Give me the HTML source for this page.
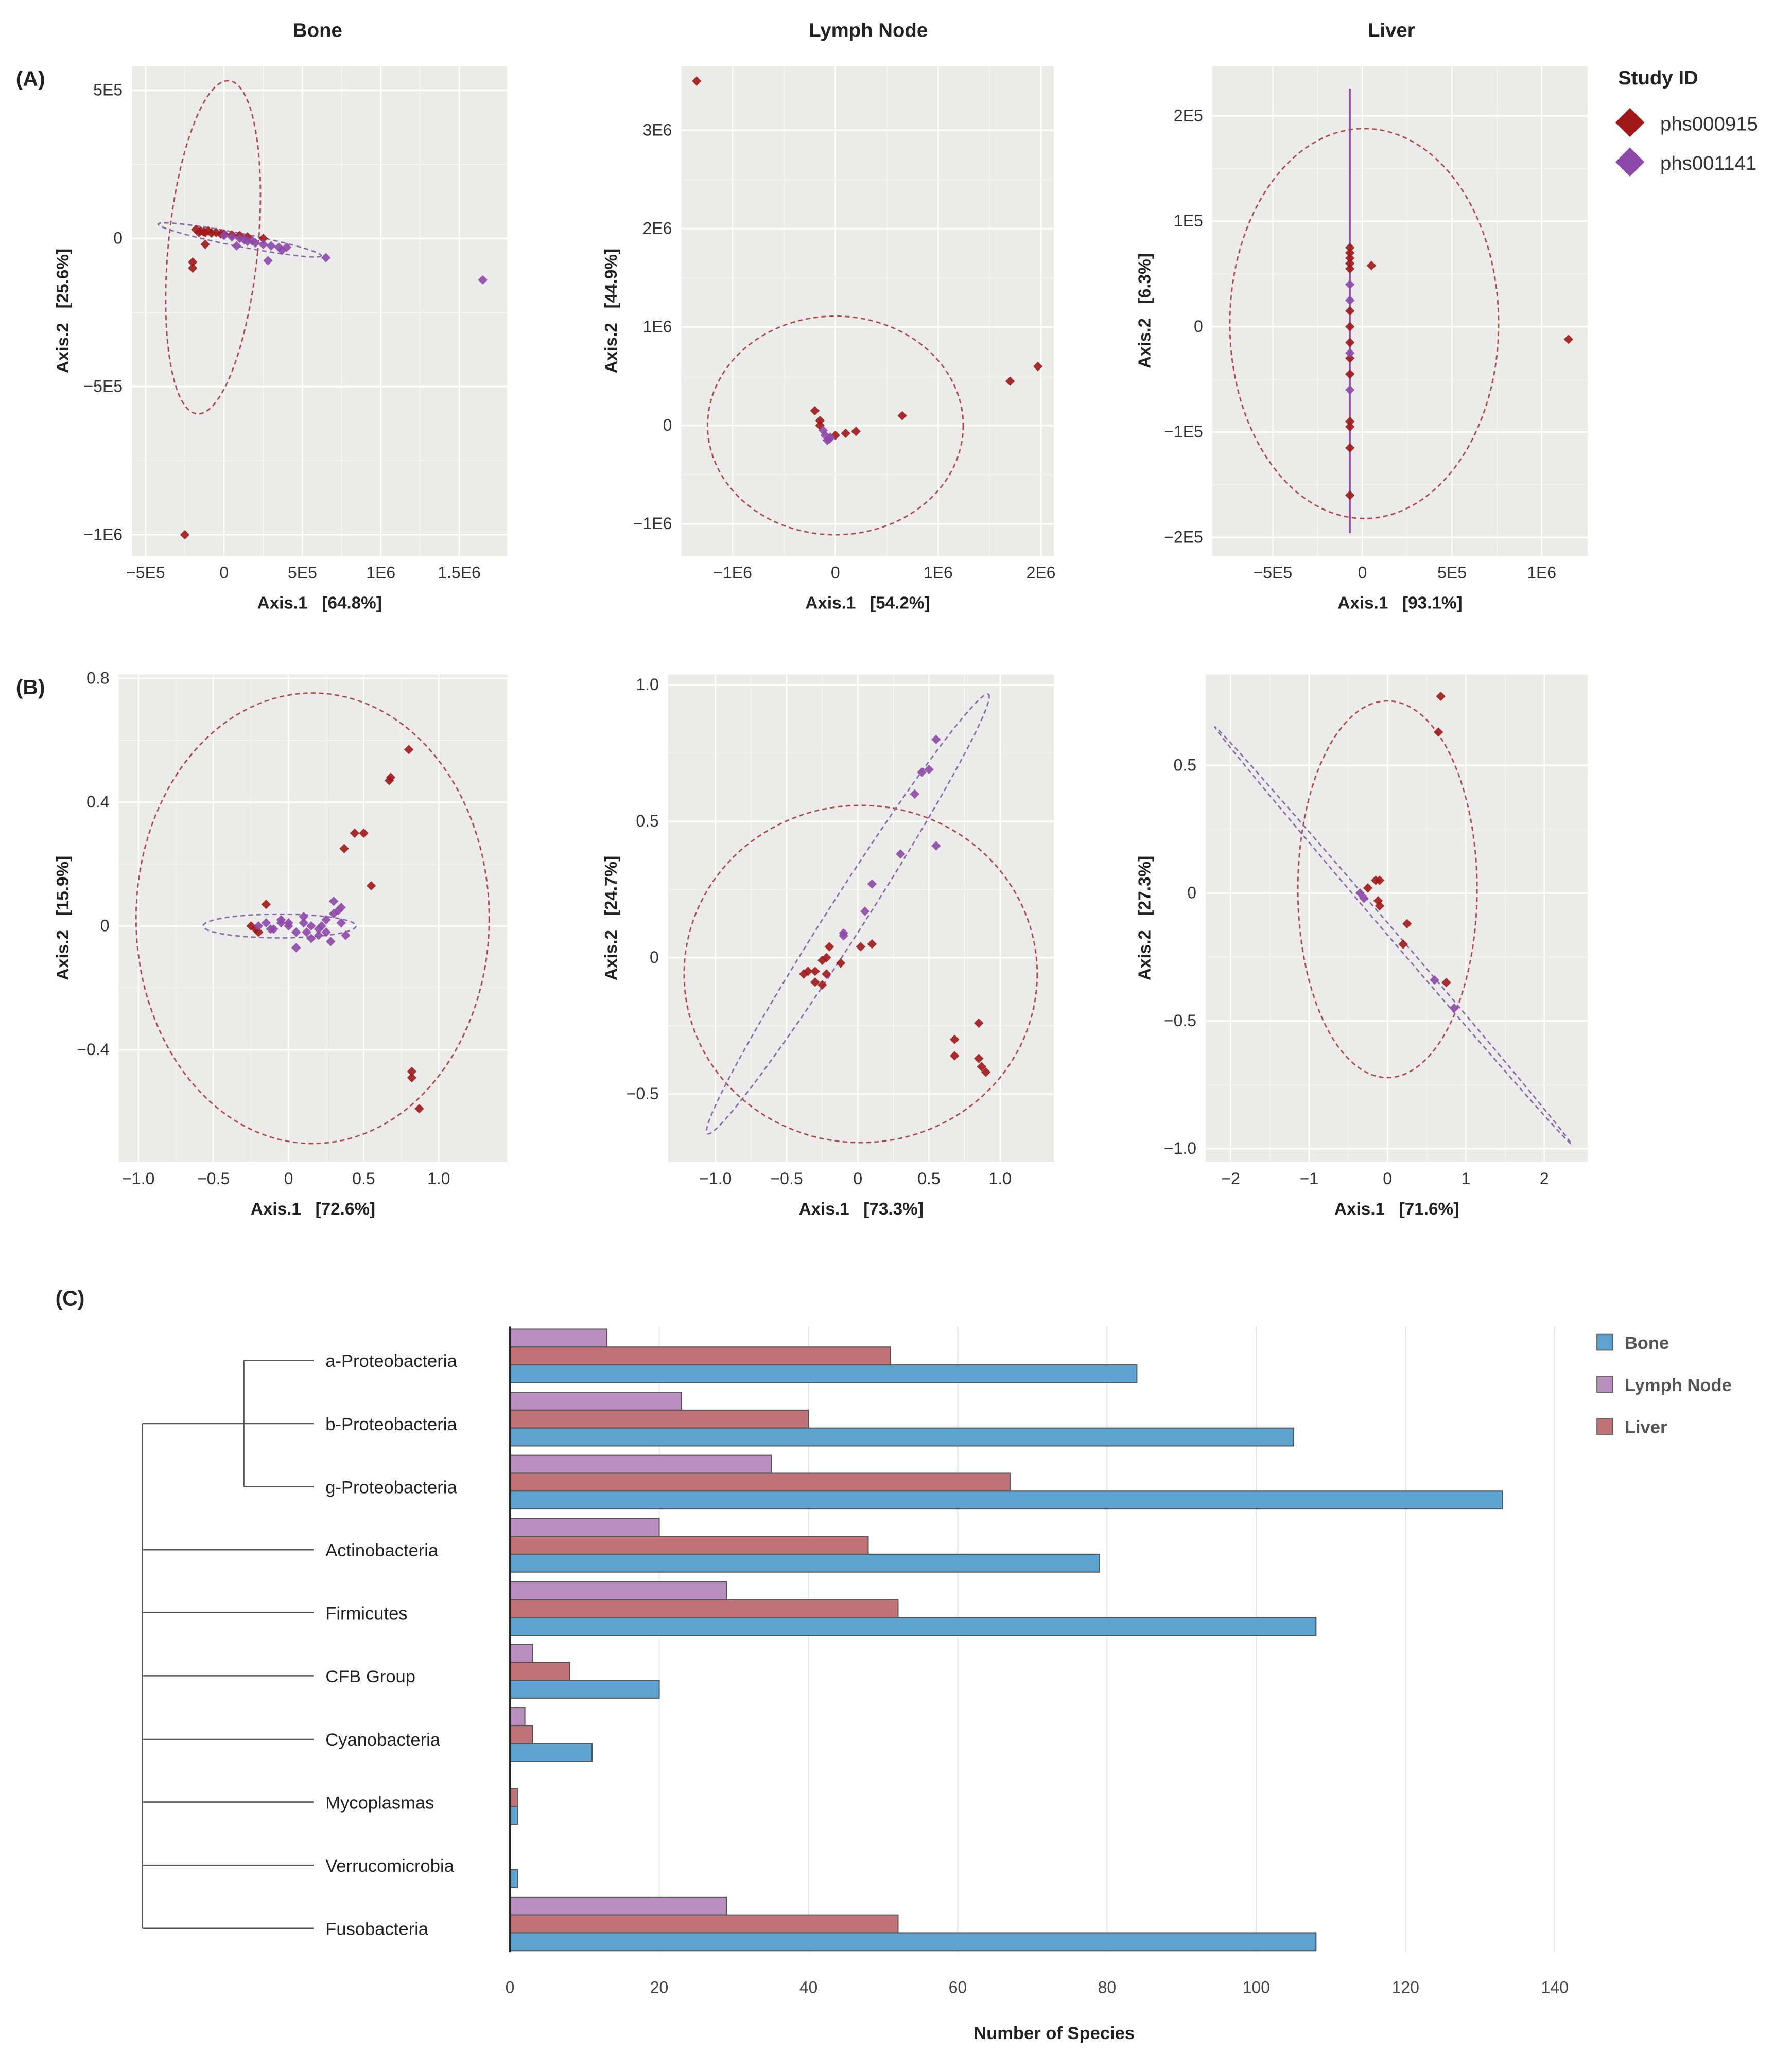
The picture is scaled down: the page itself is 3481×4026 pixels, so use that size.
<!DOCTYPE html>
<html><head><meta charset="utf-8">
<style>
html,body{margin:0;padding:0;background:#fff;}
svg{display:block;font-family:"Liberation Sans",sans-serif;}
</style></head>
<body>
<svg id="fig" width="3481" height="4026" viewBox="0 0 1360 1573" xmlns="http://www.w3.org/2000/svg">
<rect x="0" y="0" width="1360" height="1573" fill="#fff"/>
<g id="root"></g>
</svg>
<script>
// ===== Data: panel A (PCoA raw) =====
const aBoneRedX = [-180000,-160000,-150000,-130000,-120000,-100000,-80000,-50000,-20000,0,50000,100000,150000,250000,-120000,-200000,-200000,-250000];
const aBoneRedY = [30000,20000,25000,22000,20000,25000,18000,20000,15000,15000,12000,10000,5000,0,-20000,-80000,-100000,-1000000];
const aBonePurX = [0,50000,100000,130000,150000,180000,200000,250000,300000,350000,370000,400000,80000,280000,650000,1650000];
const aBonePurY = [10000,5000,0,-5000,-10000,-8000,-15000,-20000,-25000,-30000,-40000,-30000,-25000,-75000,-65000,-140000];
const aLymRedX = [-1350000,1700000,1970000,650000,-200000,-150000,-150000,0,100000,200000];
const aLymRedY = [3500000,450000,600000,100000,150000,50000,0,-100000,-80000,-60000];
const aLymPurX = [-100000,-80000,-120000,-50000,-60000];
const aLymPurY = [-100000,-150000,-50000,-120000,-140000];
const aLivRedX = [-70000,-70000,-70000,-70000,-70000,-70000,-70000,-70000,-70000,-70000,-70000,-70000,-70000,-70000,50000,1150000];
const aLivRedY = [75000,70000,65000,60000,55000,15000,0,-15000,-30000,-45000,-90000,-95000,-115000,-160000,58000,-12000];
const aLivPurX = [-70000,-70000,-70000,-70000];
const aLivPurY = [40000,25000,-25000,-60000];
// ===== Data: panel B =====
const bBoneRedX = [0.8,0.68,0.67,0.5,0.44,0.37,0.55,-0.15,0.82,0.82,0.87,-0.25,-0.22,-0.2];
const bBoneRedY = [0.57,0.48,0.47,0.3,0.3,0.25,0.13,0.07,-0.47,-0.49,-0.59,0,-0.01,-0.02];
const bBonePurX = [-0.2,-0.15,-0.1,-0.05,0,0.05,0.1,0.15,0.2,0.25,0.3,0.35,0.38,0.3,0.33,0.1,0.2,0.05,-0.05,0.15,0.25,0.35,0.28,-0.12,0.0,0.12,0.22];
const bBonePurY = [0,0.01,-0.01,0.02,0,-0.02,0.01,0,-0.03,0.02,0.04,0.01,-0.03,0.08,0.05,0.03,-0.01,-0.07,0.01,-0.04,-0.02,0.06,-0.05,-0.01,0.01,-0.02,0.0];
const bLymRedX = [0.1,0.02,-0.2,-0.22,-0.25,-0.3,-0.35,-0.38,-0.3,-0.25,-0.22,-0.12,0.85,0.68,0.68,0.85,0.87,0.9];
const bLymRedY = [0.05,0.04,0.04,0,-0.01,-0.05,-0.05,-0.06,-0.09,-0.1,-0.06,-0.02,-0.24,-0.3,-0.36,-0.37,-0.4,-0.42];
const bLymPurX = [0.55,0.5,0.45,0.4,0.55,0.3,0.1,0.05,-0.1,-0.1];
const bLymPurY = [0.8,0.69,0.68,0.6,0.41,0.38,0.27,0.17,0.09,0.08];
const bLivRedX = [0.68,0.65,-0.1,-0.15,-0.25,-0.1,-0.12,0.25,0.2,0.75];
const bLivRedY = [0.77,0.63,0.05,0.05,0.02,-0.05,-0.03,-0.12,-0.2,-0.35];
const bLivPurX = [-0.35,-0.3,0.6,0.85];
const bLivPurY = [0,-0.02,-0.34,-0.45];
// ===== Data: panel C =====
const categories = ["a-Proteobacteria","b-Proteobacteria","g-Proteobacteria","Actinobacteria","Firmicutes","CFB Group","Cyanobacteria","Mycoplasmas","Verrucomicrobia","Fusobacteria"];
const boneVals = [84,105,133,79,108,20,11,1,1,108];
const liverVals = [51,40,67,48,52,8,3,1,0,52];
const lymphVals = [13,23,35,20,29,3,2,0,0,29];
const xTicksC = [0,20,40,60,80,100,120,140];

const NS="http://www.w3.org/2000/svg";
const root=document.getElementById('root');
function el(tag,attrs,parent){const e=document.createElementNS(NS,tag);for(const k in attrs)e.setAttribute(k,attrs[k]);(parent||root).appendChild(e);return e;}
function txt(s,attrs,parent){const e=el('text',attrs,parent);e.textContent=s;return e;}

const RED="#a01818", PUR="#8e48aa";

function panel(cfg){
  const g=el('g',{});
  
  
  const sx=v=>cfg.x0+v*cfg.kx, sy=v=>cfg.y0-v*cfg.ky;
  const bg=el('rect',{x:cfg.l,y:cfg.t,width:cfg.r-cfg.l,height:cfg.b-cfg.t,fill:"#ebebe9"},g);
  
  
  cfg.xt.forEach((v,i)=>{
    const X=sx(v);
    el('line',{x1:X,x2:X,y1:cfg.t,y2:cfg.b,stroke:"#fff","stroke-width":1},g);
    if(i<cfg.xt.length-1){const m=sx((v+cfg.xt[i+1])/2);el('line',{x1:m,x2:m,y1:cfg.t,y2:cfg.b,stroke:"#f6f6f5","stroke-width":0.5},g);}
    const t=txt(cfg.xl[i],{x:X,y:cfg.b+17,"font-size":12.5,"text-anchor":"middle",fill:"#333"},g);
    
    
  });
  cfg.yt.forEach((v,i)=>{
    const Y=sy(v);
    el('line',{x1:cfg.l,x2:cfg.r,y1:Y,y2:Y,stroke:"#fff","stroke-width":1.2},g);
    if(i<cfg.yt.length-1){const m=sy((v+cfg.yt[i+1])/2);el('line',{x1:cfg.l,x2:cfg.r,y1:m,y2:m,stroke:"#f6f6f5","stroke-width":0.6},g);}
    const t=txt(cfg.yl[i],{x:cfg.l-7,y:Y+4,"font-size":12.5,"text-anchor":"end",fill:"#333"},g);
    
    
  });
  const xt=txt(cfg.xtitle,{x:(cfg.l+cfg.r)/2,y:cfg.b+40,"font-size":13,"font-weight":"bold","text-anchor":"middle",fill:"#222"},g);
  
  
  const yx=cfg.ytx, yy=(cfg.t+cfg.b)/2;
  const yt=txt(cfg.ytitle,{x:yx,y:yy,"font-size":13,"font-weight":"bold","text-anchor":"middle",fill:"#222",transform:`rotate(-90 ${yx} ${yy})`},g);
  
  
  cfg.ell.forEach(e=>{
    const cx=sx(e.cx), cy=sy(e.cy);
    const p=el('ellipse',{cx:cx,cy:cy,rx:e.a,ry:e.b,fill:"none",stroke:e.c||"#b0484c","stroke-width":1.1,"stroke-dasharray":"3.5,2.5",transform:`rotate(${e.rot||0} ${cx} ${cy})`},g);
    
    
  });
  if(cfg.vline){
    const v=cfg.vline;
    const l=el('line',{x1:sx(v.x),x2:sx(v.x),y1:sy(v.y1),y2:sy(v.y2),stroke:PUR,"stroke-width":1.3},g);
    
    
  }
  function pts(X,Y,c,nm){
    X.forEach((x,i)=>{
      const cx=sx(x), cy=sy(Y[i]), s=3.6;
      const d=el('path',{d:`M${cx} ${cy-s}L${cx+s} ${cy}L${cx} ${cy+s}L${cx-s} ${cy}Z`,fill:c,opacity:0.9},g);
      
      
    });
  }
  pts(cfg.rx,cfg.ry,RED,'point-phs000915');
  pts(cfg.px,cfg.py,PUR,'point-phs001141');
  if(cfg.title){
    const t=txt(cfg.title,{x:cfg.tx,y:28,"font-size":15,"font-weight":"bold","text-anchor":"middle",fill:"#222"},g);
    
    
  }
}
const SP="\u00a0\u00a0\u00a0";
const PE="#8a6aa8";
panel({name:'bone-pcoa-a',l:100,r:385,t:50,b:422,x0:170,kx:119/1e6,y0:181,ky:225/1e6,
  xt:[-5e5,0,5e5,1e6,1.5e6],xl:["\u22125E5","0","5E5","1E6","1.5E6"],
  yt:[5e5,0,-5e5,-1e6],yl:["5E5","0","\u22125E5","\u22121E6"],
  xtitle:"Axis.1"+SP+"[64.8%]",ytitle:"Axis.2"+SP+"[25.6%]",ytx:52,title:"Bone",tx:241,
  ell:[{cx:-70000,cy:-30000,a:34,b:127,rot:5.5},{cx:100000,cy:-5000,a:63,b:5,rot:11,c:PE}],
  rx:aBoneRedX,ry:aBoneRedY,px:aBonePurX,py:aBonePurY});
panel({name:'lymph-node-pcoa-a',l:517,r:800,t:50,b:422,x0:634,kx:78/1e6,y0:323,ky:74.7/1e6,
  xt:[-1e6,0,1e6,2e6],xl:["\u22121E6","0","1E6","2E6"],
  yt:[3e6,2e6,1e6,0,-1e6],yl:["3E6","2E6","1E6","0","\u22121E6"],
  xtitle:"Axis.1"+SP+"[54.2%]",ytitle:"Axis.2"+SP+"[44.9%]",ytx:468,title:"Lymph Node",tx:659,
  ell:[{cx:0,cy:0,a:97,b:83}],
  rx:aLymRedX,ry:aLymRedY,px:aLymPurX,py:aLymPurY});
panel({name:'liver-pcoa-a',l:920,r:1205,t:50,b:422,x0:1034,kx:136/1e6,y0:248,ky:800/1e6,
  xt:[-5e5,0,5e5,1e6],xl:["\u22125E5","0","5E5","1E6"],
  yt:[2e5,1e5,0,-1e5,-2e5],yl:["2E5","1E5","0","\u22121E5","\u22122E5"],
  xtitle:"Axis.1"+SP+"[93.1%]",ytitle:"Axis.2"+SP+"[6.3%]",ytx:873,title:"Liver",tx:1056,
  ell:[{cx:10000,cy:3000,a:102,b:148}],vline:{x:-70000,y1:226000,y2:-196000},
  rx:aLivRedX,ry:aLivRedY,px:aLivPurX,py:aLivPurY});
panel({name:'bone-pcoa-b',l:90,r:385,t:512,b:882,x0:219,kx:114,y0:703,ky:235,
  xt:[-1,-0.5,0,0.5,1],xl:["\u22121.0","\u22120.5","0","0.5","1.0"],
  yt:[0.8,0.4,0,-0.4],yl:["0.8","0.4","0","\u22120.4"],
  xtitle:"Axis.1"+SP+"[72.6%]",ytitle:"Axis.2"+SP+"[15.9%]",ytx:52,
  ell:[{cx:0.16,cy:0.025,a:134,b:171},{cx:-0.06,cy:0,a:58,b:9,c:PE}],
  rx:bBoneRedX,ry:bBoneRedY,px:bBonePurX,py:bBonePurY});
panel({name:'lymph-node-pcoa-b',l:507,r:800,t:512,b:882,x0:651,kx:108,y0:727,ky:207,
  xt:[-1,-0.5,0,0.5,1],xl:["\u22121.0","\u22120.5","0","0.5","1.0"],
  yt:[1,0.5,0,-0.5],yl:["1.0","0.5","0","\u22120.5"],
  xtitle:"Axis.1"+SP+"[73.3%]",ytitle:"Axis.2"+SP+"[24.7%]",ytx:468,
  ell:[{cx:0.02,cy:-0.06,a:134,b:128},{cx:-0.07,cy:0.16,a:198,b:14,rot:-57.4,c:PE}],
  rx:bLymRedX,ry:bLymRedY,px:bLymPurX,py:bLymPurY});
panel({name:'liver-pcoa-b',l:915,r:1205,t:512,b:882,x0:1053,kx:59.5,y0:678,ky:194,
  xt:[-2,-1,0,1,2],xl:["\u22122","\u22121","0","1","2"],
  yt:[0.5,0,-0.5,-1],yl:["0.5","0","\u22120.5","\u22121.0"],
  xtitle:"Axis.1"+SP+"[71.6%]",ytitle:"Axis.2"+SP+"[27.3%]",ytx:873,
  ell:[{cx:0,cy:0.015,a:68,b:143},{cx:0.07,cy:-0.165,a:208,b:3,rot:49.5,c:PE}],
  rx:bLivRedX,ry:bLivRedY,px:bLivPurX,py:bLivPurY});

[["(A)",12,65,'panel-label-a'],["(B)",12,527,'panel-label-b'],["(C)",42,991,'panel-label-c']].forEach(a=>{
  const t=txt(a[0],{x:a[1],y:a[2],"font-size":16,"font-weight":"bold",fill:"#222"});
  
  
});
const st=txt("Study ID",{x:1228,y:64,"font-size":15,"font-weight":"bold",fill:"#222"});


[["phs000915",RED,93],["phs001141",PUR,123]].forEach(a=>{
  const g=el('g',{});
  
  
  el('path',{d:`M1237 ${a[2]-11}L1248 ${a[2]}L1237 ${a[2]+11}L1226 ${a[2]}Z`,fill:a[1]},g);
  txt(a[0],{x:1260,y:a[2]+6,"font-size":15,fill:"#333"},g);
});

// ===== Panel C =====
const cx0=387, ck=(1180-387)/140, gTop=1009, gStep=47.9, bh=13.6;
const xC=v=>cx0+v*ck;
const gc=el('g',{});


xTicksC.forEach(v=>{
  if(v>0){const l=el('line',{x1:xC(v),x2:xC(v),y1:1007,y2:1482,stroke:"#e3e3e3","stroke-width":0.8},gc);
  
  }
  const t=txt(String(v),{x:xC(v),y:1513,"font-size":12.5,"text-anchor":"middle",fill:"#444"},gc);
  
  
});
const series=[[lymphVals,"#b98fbf",'bar-lymph-node'],[liverVals,"#c07376",'bar-liver'],[boneVals,"#5ea3cf",'bar-bone']];
categories.forEach((c,i)=>{
  const top=gTop+i*gStep;
  series.forEach((s,j)=>{
    const v=s[0][i]; if(v<=0) return;
    const r=el('rect',{x:cx0,y:top+j*bh,width:xC(v)-cx0,height:bh,fill:s[1],stroke:"#555","stroke-width":0.8},gc);
    
    
  });
  const ly=top+bh*1.75;
  const t=txt(c,{x:247,y:ly+5,"font-size":13.5,fill:"#222"},gc);
  
  
});
const ax=el('line',{x1:cx0,x2:cx0,y1:1007,y2:1482,stroke:"#222","stroke-width":1.2},gc);


const xtC=txt("Number of Species",{x:800,y:1548,"font-size":13.5,"font-weight":"bold","text-anchor":"middle",fill:"#222"},gc);


const dg=el('g',{stroke:"#555","stroke-width":1,fill:"none"});


const ys=categories.map((c,i)=>gTop+i*gStep+bh*1.75);
el('line',{x1:108,x2:108,y1:ys[1],y2:ys[9]},dg);
el('line',{x1:185,x2:185,y1:ys[0],y2:ys[2]},dg);
ys.forEach((y,i)=>{
  const x1=(i===0||i===2)?185:108;
  el('line',{x1:x1,x2:238,y1:y,y2:y},dg);
});
[["Bone","#5ea3cf",1019],["Lymph Node","#b98fbf",1051],["Liver","#c07376",1083]].forEach(a=>{
  const g=el('g',{});
  
  
  el('rect',{x:1212,y:a[2]-6,width:12,height:12,fill:a[1],stroke:"#666","stroke-width":0.8},g);
  txt(a[0],{x:1233,y:a[2]+5,"font-size":13.5,"font-weight":"bold",fill:"#555"},g);
});
</script>
</body></html>
